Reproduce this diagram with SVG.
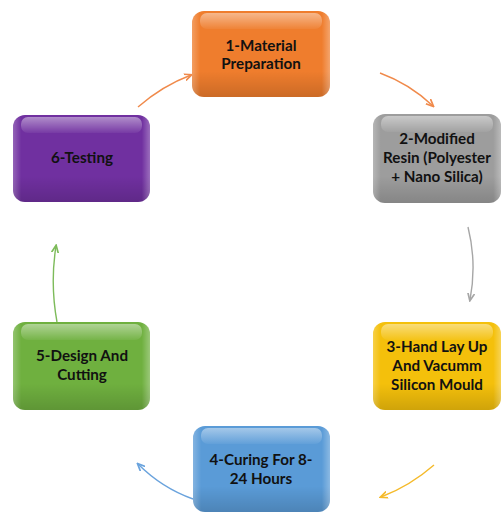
<svg xmlns="http://www.w3.org/2000/svg" width="502" height="513" viewBox="0 0 502 513">
<style>
.lbl{font-family:Lato,"Open Sans","Liberation Sans",sans-serif;font-weight:bold;font-size:15.2px;fill:#111;text-anchor:middle}
.hl{fill:url(#gloss)}
.edge{fill:none;stroke-width:1.4}
</style>
<defs>
<linearGradient id="gloss" x1="0" y1="0" x2="0" y2="1">
<stop offset="0" stop-color="#fff" stop-opacity="0.45"/>
<stop offset="1" stop-color="#fff" stop-opacity="0.05"/>
</linearGradient>
<linearGradient id="shade" x1="0" y1="0" x2="0" y2="1">
<stop offset="0" stop-color="#fff" stop-opacity="0"/>
<stop offset="0.7" stop-color="#000" stop-opacity="0"/>
<stop offset="1" stop-color="#000" stop-opacity="0.15"/>
</linearGradient>
<linearGradient id="side" x1="0" y1="0" x2="1" y2="0">
<stop offset="0" stop-color="#fff" stop-opacity="0.25"/>
<stop offset="0.06" stop-color="#fff" stop-opacity="0"/>
<stop offset="0.94" stop-color="#fff" stop-opacity="0"/>
<stop offset="1" stop-color="#fff" stop-opacity="0.3"/>
</linearGradient>
<marker id="aO" viewBox="0 0 10 10" refX="8" refY="5" markerWidth="6" markerHeight="6" orient="auto"><path d="M0,1 L9,5 L0,9" fill="none" stroke="#F08A4B" stroke-width="2"/></marker>
<marker id="aG" viewBox="0 0 10 10" refX="8" refY="5" markerWidth="6" markerHeight="6" orient="auto"><path d="M0,1 L9,5 L0,9" fill="none" stroke="#A6A6A6" stroke-width="2"/></marker>
<marker id="aY" viewBox="0 0 10 10" refX="8" refY="5" markerWidth="6" markerHeight="6" orient="auto"><path d="M0,1 L9,5 L0,9" fill="none" stroke="#F5BA2A" stroke-width="2"/></marker>
<marker id="aB" viewBox="0 0 10 10" refX="8" refY="5" markerWidth="6" markerHeight="6" orient="auto"><path d="M0,1 L9,5 L0,9" fill="none" stroke="#6AA3DD" stroke-width="2"/></marker>
<marker id="aN" viewBox="0 0 10 10" refX="8" refY="5" markerWidth="6" markerHeight="6" orient="auto"><path d="M0,1 L9,5 L0,9" fill="none" stroke="#7DBB5A" stroke-width="2"/></marker>
</defs>

<g id="connectors">
<path class="edge" stroke="#F08A4B" d="M138,107 Q162,86 191,75" marker-end="url(#aO)"/>
<path class="edge" stroke="#F08A4B" d="M380,73 Q410,84 433,106" marker-end="url(#aO)"/>
<path class="edge" stroke="#A6A6A6" d="M468,227 Q477,263 470,300" marker-end="url(#aG)"/>
<path class="edge" stroke="#F5BA2A" d="M434,465 Q410,486 381,497" marker-end="url(#aY)"/>
<path class="edge" stroke="#6AA3DD" d="M193,499 Q162,488 138,464" marker-end="url(#aB)"/>
<path class="edge" stroke="#7DBB5A" d="M57,322 Q50,284 56,246" marker-end="url(#aN)"/>
</g>

<g id="node1">
<rect x="192" y="11" width="138" height="86" rx="12" fill="#EF7D2D"/>
<rect x="192" y="11" width="138" height="86" rx="12" fill="url(#shade)"/>
<rect x="192" y="11" width="138" height="86" rx="12" fill="url(#side)"/>
<rect x="200" y="13" width="122" height="16" rx="7" class="hl"/>
<text class="lbl" x="261" y="51">1-Material</text>
<text class="lbl" x="261" y="69">Preparation</text>
</g>

<g id="node2">
<rect x="373" y="114" width="128" height="89" rx="12" fill="#9D9D9D"/>
<rect x="373" y="114" width="128" height="89" rx="12" fill="url(#shade)"/>
<rect x="373" y="114" width="128" height="89" rx="12" fill="url(#side)"/>
<rect x="381" y="116" width="112" height="16" rx="7" class="hl"/>
<text class="lbl" x="437" y="144">2-Modified</text>
<text class="lbl" x="437" y="163">Resin (Polyester</text>
<text class="lbl" x="437" y="182">+ Nano Silica)</text>
</g>

<g id="node3">
<rect x="373" y="322" width="128" height="88" rx="12" fill="#F4C00B"/>
<rect x="373" y="322" width="128" height="88" rx="12" fill="url(#shade)"/>
<rect x="373" y="322" width="128" height="88" rx="12" fill="url(#side)"/>
<rect x="381" y="324" width="112" height="16" rx="7" class="hl"/>
<text class="lbl" x="437" y="352">3-Hand Lay Up</text>
<text class="lbl" x="437" y="371">And Vacumm</text>
<text class="lbl" x="437" y="390">Silicon Mould</text>
</g>

<g id="node4">
<rect x="193" y="426" width="137" height="86" rx="12" fill="#5A9BD7"/>
<rect x="193" y="426" width="137" height="86" rx="12" fill="url(#shade)"/>
<rect x="193" y="426" width="137" height="86" rx="12" fill="url(#side)"/>
<rect x="201" y="428" width="121" height="16" rx="7" class="hl"/>
<text class="lbl" x="261" y="465">4-Curing For 8-</text>
<text class="lbl" x="261" y="484">24 Hours</text>
</g>

<g id="node5">
<rect x="13" y="322" width="137" height="88" rx="12" fill="#6FB03F"/>
<rect x="13" y="322" width="137" height="88" rx="12" fill="url(#shade)"/>
<rect x="13" y="322" width="137" height="88" rx="12" fill="url(#side)"/>
<rect x="21" y="324" width="121" height="16" rx="7" class="hl"/>
<text class="lbl" x="82" y="361">5-Design And</text>
<text class="lbl" x="82" y="380">Cutting</text>
</g>

<g id="node6">
<rect x="13" y="115" width="137" height="87" rx="12" fill="#7030A0"/>
<rect x="13" y="115" width="137" height="87" rx="12" fill="url(#shade)"/>
<rect x="13" y="115" width="137" height="87" rx="12" fill="url(#side)"/>
<rect x="21" y="117" width="121" height="16" rx="7" class="hl"/>
<text class="lbl" x="82" y="163">6-Testing</text>
</g>
</svg>
